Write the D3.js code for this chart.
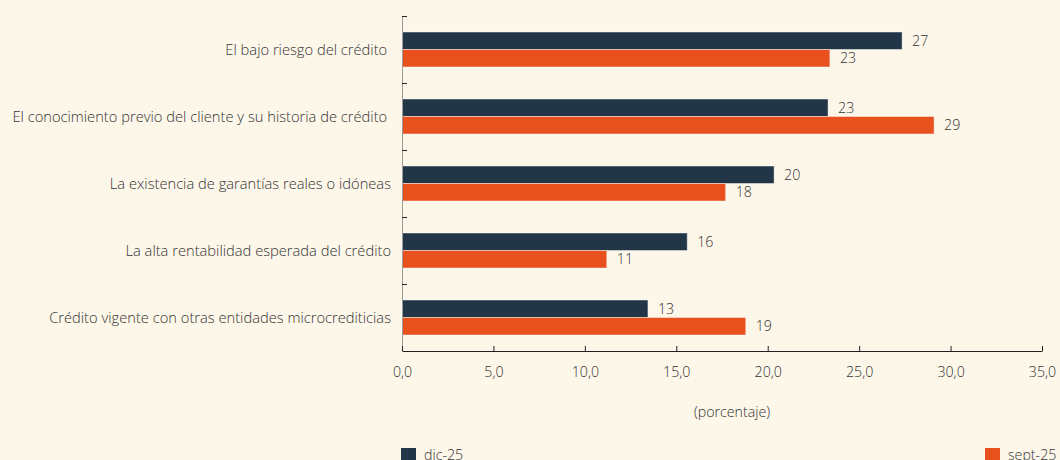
<!DOCTYPE html>
<html lang="es">
<head>
<meta charset="utf-8">
<script src="https://cdn.jsdelivr.net/npm/d3@7"></script>
<style>
  html, body { margin: 0; padding: 0; background: #FDF7EA; }
  svg { display: block; font-family: "Open Sans", "Noto Sans", sans-serif; font-weight: 300; }
</style>
</head>
<body>
<svg id="chart" width="1060" height="460"></svg>
<script>
// Criterios para otorgar microcrédito (porcentaje)
const categories = [
  "El bajo riesgo del crédito ",
  "El conocimiento previo del cliente y su historia de crédito ",
  "La existencia de garantías reales o idóneas",
  "La alta rentabilidad esperada del crédito",
  "Crédito vigente con otras entidades microcrediticias"
];
const seriesNames = ["dic-25", "sept-25"];
const dic25  = [27.35, 23.3, 20.35, 15.6, 13.45];
const sept25 = [23.4, 29.1, 17.7, 11.2, 18.8];
const xTicks = [0, 5, 10, 15, 20, 25, 30, 35];
const colors = ["#223648", "#E8501E"];

const rows = categories.map((c, i) => ({ cat: c, values: [dic25[i], sept25[i]] }));

const svg = d3.select("#chart");
const W = 1060, H = 460;
svg.append("rect").attr("width", W).attr("height", H).attr("fill", "#FDF7EA");

const x = d3.scaleLinear().domain([0, 35]).range([402, 1042]);
const y = d3.scaleBand().domain(categories).range([16, 351]).padding(0);
const ySub = d3.scaleBand().domain(seriesNames).range([0, y.bandwidth()])
  .paddingInner(0).paddingOuter(0.914);

const es = d3.formatLocale({ decimal: ",", thousands: ".", grouping: [3], currency: ["", "€"] });
const fmtTick = es.format(".1f");
const fmtVal = es.format(".0f");
const textColor = "#333333";
const fontSize = 14.2;
const catFontSize = 14.7;

// Bars
const groups = svg.append("g").selectAll("g").data(rows).join("g")
  .attr("transform", d => `translate(0,${y(d.cat)})`);

groups.selectAll("rect").data(d => d.values.map((v, k) => ({ v, k })))
  .join("rect")
  .attr("x", x(0))
  .attr("y", d => ySub(seriesNames[d.k]))
  .attr("width", d => x(d.v) - x(0))
  .attr("height", ySub.bandwidth())
  .attr("fill", d => colors[d.k])
  .attr("stroke", "rgba(255,255,255,0.45)")
  .attr("stroke-width", 1);

groups.selectAll("text.val").data(d => d.values.map((v, k) => ({ v, k })))
  .join("text")
  .attr("class", "val")
  .attr("x", d => x(d.v) + 10)
  .attr("y", d => ySub(seriesNames[d.k]) + ySub.bandwidth() / 2)
  .attr("dy", "0.35em")
  .attr("font-size", fontSize)
  .attr("fill", textColor)
  .text(d => fmtVal(d.v));

// Category labels
svg.append("g").selectAll("text").data(categories).join("text")
  .attr("x", 391)
  .attr("y", d => y(d) + y.bandwidth() / 2)
  .attr("dy", "0.35em")
  .attr("text-anchor", "end")
  .attr("font-size", catFontSize)
  .attr("fill", textColor)
  .style("white-space", "pre")
  .text(d => d);

// Vertical axis with ticks at band boundaries
const yAxis = svg.append("g");
yAxis.append("line")
  .attr("x1", x(0) + 0.5).attr("x2", x(0) + 0.5)
  .attr("y1", y.range()[0]).attr("y2", y.range()[1])
  .attr("stroke", "#9a9a9a");
const bounds = categories.map(c => y(c));
yAxis.selectAll("line.tick").data(bounds).join("line")
  .attr("class", "tick")
  .attr("x1", x(0)).attr("x2", x(0) + 5)
  .attr("y1", d => d + 0.5).attr("y2", d => d + 0.5)
  .attr("stroke", "#222");

// Horizontal axis
const xAxis = svg.append("g")
  .attr("transform", `translate(0,${y.range()[1]})`)
  .call(d3.axisBottom(x).tickValues(xTicks).tickFormat(fmtTick)
    .tickSizeInner(-5).tickSizeOuter(0).tickPadding(16));
xAxis.select(".domain").attr("stroke", "#222");
xAxis.selectAll(".tick line").attr("stroke", "#222");
xAxis.selectAll(".tick text")
  .attr("font-family", "\"Open Sans\", sans-serif")
  .attr("font-weight", 300)
  .attr("font-size", fontSize).attr("fill", textColor);

// Axis title
svg.append("text")
  .attr("x", 732).attr("y", 417)
  .attr("text-anchor", "middle")
  .attr("font-size", fontSize).attr("fill", textColor)
  .text("(porcentaje)");

// Legend
const legendPos = [401, 985];
const legend = svg.append("g").selectAll("g").data(seriesNames).join("g")
  .attr("transform", (d, i) => `translate(${legendPos[i]},448)`);
legend.append("rect").attr("width", 15).attr("height", 15)
  .attr("fill", (d, i) => colors[i]);
legend.append("text")
  .attr("x", 23).attr("y", 7.5).attr("dy", "0.35em")
  .attr("font-size", fontSize).attr("fill", textColor)
  .text(d => d);
</script>
</body>
</html>
